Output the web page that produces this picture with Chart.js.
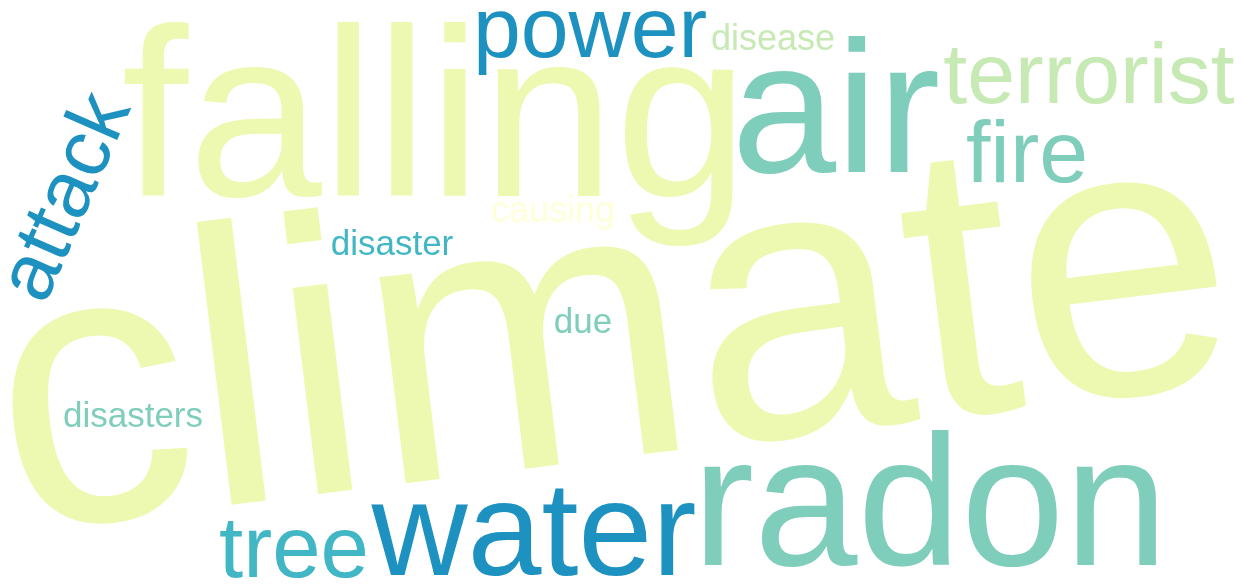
<!DOCTYPE html>
<html lang="en">
<head>
  <meta charset="UTF-8">
  <title>Word cloud</title>
  <script src="https://cdn.jsdelivr.net/npm/chart.js"></script>
  <style>
    body {
      margin: 0;
      background-color: #fff;
    }
    #wrap {
      width: 1242px;
      height: 588px;
    }
  </style>
</head>
<body>
  <div id="wrap">
    <canvas id="chart" width="1242" height="588"></canvas>
  </div>

  <script>
    // words and their weight (drawn as font size in scale units)
    const words = ['climate', 'falling', 'radon', 'air', 'water', 'terrorist', 'fire', 'power', 'tree', 'attack',
                   'disease', 'causing', 'disaster', 'due', 'disasters'];
    const weights = [393, 240, 186, 188, 133, 86, 88, 86, 87, 81, 36, 36, 35, 35, 35];
    // layout of the cloud, in the chart's own x / y units (baseline centre of each word)
    const posX = [628, 435, 930, 836, 534, 1089, 1027, 590, 294, 88, 773, 553, 392, 583, 133];
    const posY = [456, 196, 565, 172, 575, 103, 182, 57, 577, 207, 50, 222, 255, 333, 427];
    const angles = [-7, 0, 0, 0, 0, 0, 0, 0, 0, -66.4, 0, 0, 0, 0, 0];

    const colors = ['#edf8b1', '#edf8b1', '#7fcdbb', '#7fcdbb', '#1d91c0', '#c7e9b4', '#7fcdbb', '#1d91c0', '#41b6c4',
                    '#1d91c0', '#c7e9b4', '#ffffd9', '#41b6c4', '#7fcdbb', '#7fcdbb'];

    const wordPlugin = {
      id: 'wordLabels',
      afterDatasetsDraw(chart) {
        const ctx = chart.ctx;
        const meta = chart.getDatasetMeta(0);
        const xScale = chart.scales.x;
        const unit = Math.abs(xScale.getPixelForValue(1) - xScale.getPixelForValue(0));
        meta.data.forEach((pt, i) => {
          ctx.save();
          ctx.translate(pt.x, pt.y);
          ctx.rotate(angles[i] * Math.PI / 180);
          ctx.font = (weights[i] * unit) + 'px "Liberation Sans", Arial, sans-serif';
          ctx.fillStyle = colors[i];
          ctx.textAlign = 'center';
          ctx.textBaseline = 'alphabetic';
          ctx.fillText(words[i], 0, 0);
          ctx.restore();
        });
      }
    };

    new Chart(document.getElementById('chart'), {
      type: 'scatter',
      data: {
        labels: words,
        datasets: [{
          data: words.map((w, i) => ({ x: posX[i], y: posY[i] })),
          pointRadius: 0,
          pointHoverRadius: 0
        }]
      },
      options: {
        responsive: false,
        animation: false,
        layout: { padding: 0 },
        plugins: {
          legend: { display: false },
          tooltip: { enabled: false }
        },
        scales: {
          x: { type: 'linear', min: 0, max: 1242, display: false },
          y: { type: 'linear', min: 0, max: 588, reverse: true, display: false }
        }
      },
      plugins: [wordPlugin]
    });
  </script>
</body>
</html>
